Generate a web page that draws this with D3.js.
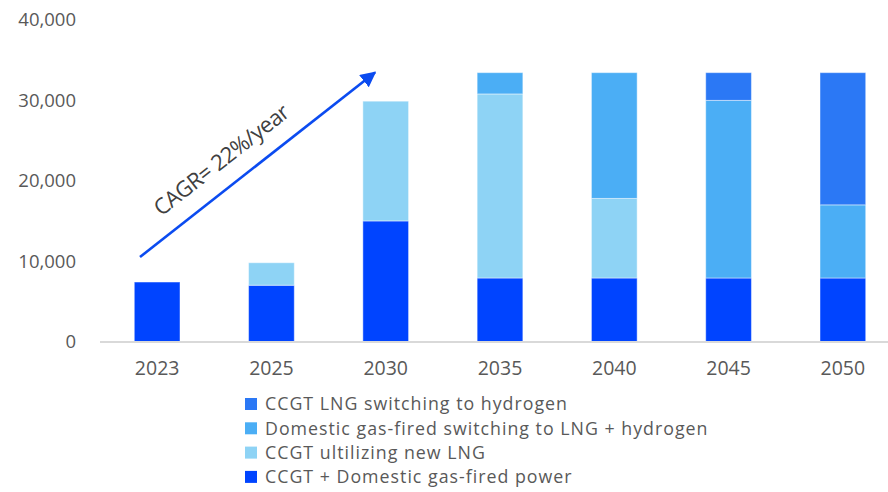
<!DOCTYPE html>
<html><head><meta charset="utf-8">
<script src="https://cdn.jsdelivr.net/npm/d3@7"></script>
<style>body{margin:0;background:#fff}svg{display:block;font-family:"Open Sans","Noto Sans",sans-serif}</style>
</head><body><svg id="c" width="888" height="492"></svg>
<script>
const years = ["2023","2025","2030","2035","2040","2045","2050"];
const seriesNames = ["CCGT + Domestic gas-fired power","CCGT ultilizing new LNG","Domestic gas-fired switching to LNG + hydrogen","CCGT LNG switching to hydrogen"];
const domesticPower = [7400, 7000, 15000, 7900, 7900, 7900, 7900];
const newLNG        = [0, 2800, 14900, 22900, 9900, 0, 0];
const lngHydrogen   = [0, 0, 0, 2650, 15650, 22100, 9100];
const h2Switch      = [0, 0, 0, 0, 0, 3450, 16450];
const yTicks = [0, 10000, 20000, 30000, 40000];
const colors = ["#0044FF","#8ED3F5","#4BAEF5","#2B78F5"];
const annotation = "CAGR= 22%/year";

const svg = d3.select("#c");
const x = d3.scaleBand().domain(years).range([100, 900]).paddingInner(0.6).paddingOuter(0.3);
const y = d3.scaleLinear().domain([0, 40000]).range([341.5, 20]);

const rows = years.map((yr,i)=>({year:yr, s0:domesticPower[i], s1:newLNG[i], s2:lngHydrogen[i], s3:h2Switch[i]}));
const stack = d3.stack().keys(["s0","s1","s2","s3"])(rows);

// y axis labels
const ya = svg.append("g").attr("transform","translate(76,0)")
  .call(d3.axisLeft(y).tickValues(yTicks).tickSize(0).tickPadding(0).tickFormat(d3.format(",")));
ya.select(".domain").remove();
ya.selectAll("text").attr("fill","#595959").style("font-size","18.5px").style("font-family","'Open Sans','Noto Sans',sans-serif");

// bars
stack.forEach((layer,k)=>{
  svg.append("g").selectAll("rect").data(layer.filter(d=>d[1]-d[0]>0)).join("rect")
    .attr("x", d=>x(d.data.year)).attr("width", x.bandwidth())
    .attr("y", d=>y(d[1])).attr("height", d=>y(d[0])-y(d[1]))
    .attr("fill", colors[k]).attr("stroke","rgba(255,255,255,0.45)").attr("stroke-width",1);
});

// baseline
svg.append("line").attr("x1",100).attr("x2",888).attr("y1",y(0)+0.5).attr("y2",y(0)+0.5)
  .attr("stroke","#d9d9d9").attr("stroke-width",2);

// x axis
const xa = svg.append("g").attr("transform","translate(0,"+(y(0))+")")
  .call(d3.axisBottom(x).tickSize(0).tickPadding(20));
xa.select(".domain").remove();
xa.selectAll("text").attr("fill","#595959").style("font-size","19.5px").style("font-family","'Open Sans','Noto Sans',sans-serif");

// arrow
svg.append("defs").append("marker").attr("id","ah").attr("viewBox","0 0 10 10")
  .attr("refX",9).attr("refY",5).attr("markerWidth",6).attr("markerHeight",6)
  .attr("markerUnits","strokeWidth").attr("orient","auto")
  .append("path").attr("d","M0,0L10,5L0,10z").attr("fill","#0B4BF0");
svg.append("line").attr("x1",140).attr("y1",257).attr("x2",375).attr("y2",72.5)
  .attr("stroke","#0B4BF0").attr("stroke-width",2.6).attr("marker-end","url(#ah)");
svg.append("text").attr("transform","translate(226,166) rotate(-38.1)")
  .attr("text-anchor","middle").attr("fill","#404040").style("font-size","22px")
  .style("letter-spacing","-0.5px").text(annotation);

// legend
const legOrder = [3,2,1,0];
const lg = svg.append("g");
legOrder.forEach((k,i)=>{
  const yy = 404 + i*24.3;
  lg.append("rect").attr("x",245).attr("y",yy-6).attr("width",12).attr("height",12).attr("fill",colors[k]);
  lg.append("text").attr("x",265).attr("y",yy).attr("dy","0.35em").attr("fill","#595959")
    .style("font-size","17.8px").style("letter-spacing","1px").text(seriesNames[k]);
});
</script></body></html>
